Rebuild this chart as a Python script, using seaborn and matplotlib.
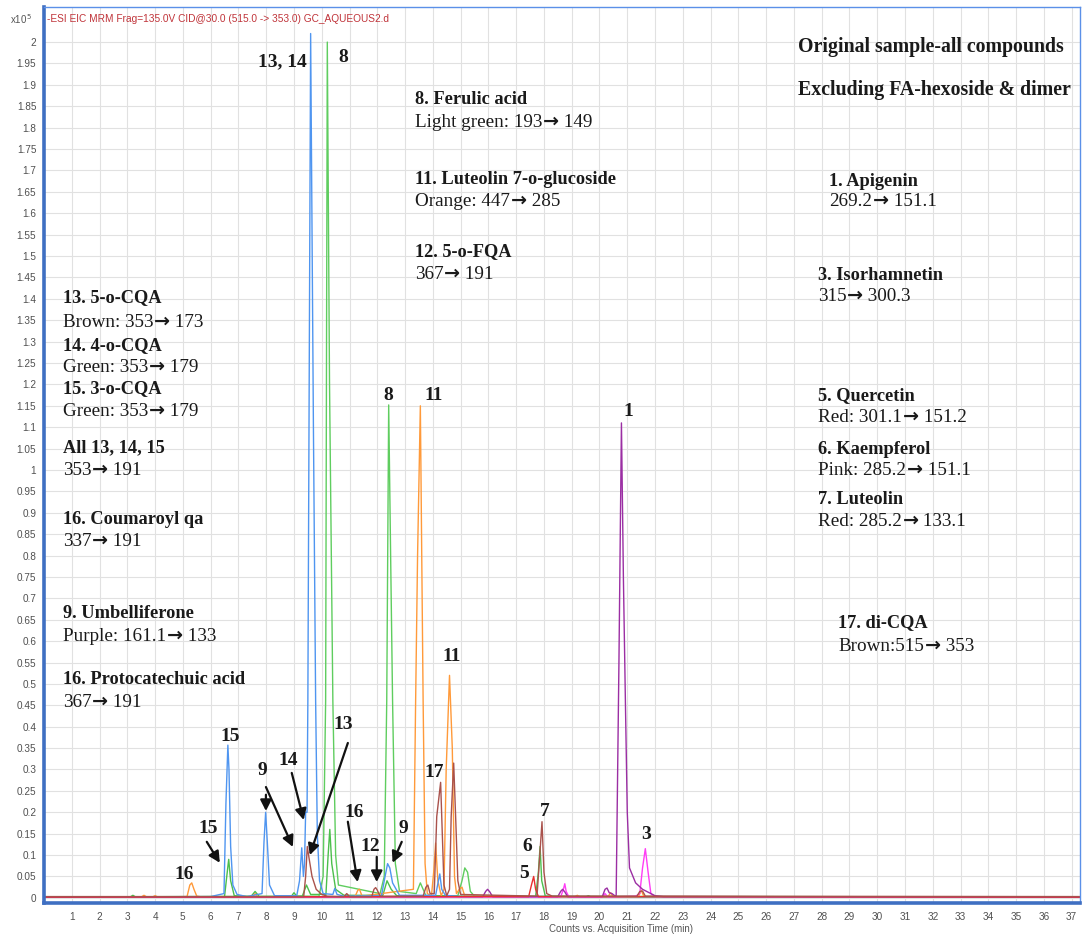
import numpy as np
import pandas as pd
import matplotlib
matplotlib.use("Agg")
import matplotlib.pyplot as plt
from matplotlib.text import Annotation
import seaborn as sns

# ---------------------------------------------------------------
# Chromatogram traces (retention time in min, counts x 10^5)
# ---------------------------------------------------------------
blue_t = [0, 6.0, 6.48, 6.55, 6.62, 6.66, 6.72, 6.8, 6.95, 7.3, 7.85, 7.92, 7.98, 8.04,
          8.12, 8.3, 9.1, 9.2, 9.28, 9.34, 9.38, 9.42, 9.47, 9.5, 9.6, 9.7, 9.78, 9.84,
          9.92, 10.05, 10.4, 10.47, 10.55, 10.8, 12.15, 12.28, 12.37, 12.45, 12.55, 12.8,
          14.1, 14.2, 14.25, 14.32, 14.45, 15.0, 37.3]
blue_y = [0.002, 0.003, 0.01, 0.22, 0.357, 0.3, 0.12, 0.03, 0.008, 0.003, 0.01, 0.13, 0.2,
          0.13, 0.03, 0.005, 0.005, 0.04, 0.117, 0.05, 0.08, 0.2, 0.2, 0.46, 2.02, 1.1,
          0.46, 0.15, 0.04, 0.01, 0.008, 0.022, 0.008, 0.004, 0.005, 0.05, 0.08, 0.07,
          0.035, 0.006, 0.006, 0.04, 0.056, 0.02, 0.006, 0.003, 0.002]

lgreen_t = [0, 9.9, 10.05, 10.14, 10.2, 10.28, 10.4, 10.5, 10.6, 12.1, 12.25, 12.34,
            12.41, 12.48, 12.55, 12.65, 12.8, 13.4, 13.55, 13.65, 13.75, 14.9, 15.05,
            15.15, 15.25, 15.35, 15.5, 37.3]
lgreen_y = [0.002, 0.004, 0.05, 0.46, 2.0, 1.2, 0.46, 0.1, 0.03, 0.01, 0.05, 0.46, 1.152,
            0.8, 0.46, 0.08, 0.015, 0.01, 0.035, 0.02, 0.005, 0.005, 0.04, 0.07, 0.06,
            0.015, 0.004, 0.002]

green_t = [0, 3.1, 3.2, 3.3, 6.5, 6.58, 6.65, 6.72, 6.85, 7.45, 7.6, 7.75, 8.9, 9.0, 9.1,
           9.3, 9.45, 9.6, 10.15, 10.23, 10.29, 10.36, 10.5, 10.8, 12.2, 12.35, 12.5,
           12.7, 17.7, 17.8, 17.86, 17.92, 18.05, 19.5, 19.6, 19.7, 37.3]
green_y = [0.002, 0.002, 0.006, 0.002, 0.003, 0.05, 0.09, 0.04, 0.005, 0.003, 0.015,
           0.003, 0.003, 0.012, 0.004, 0.004, 0.03, 0.008, 0.008, 0.1, 0.16, 0.08, 0.02,
           0.006, 0.006, 0.04, 0.02, 0.005, 0.003, 0.06, 0.12, 0.04, 0.004, 0.002, 0.005,
           0.002, 0.002]

orange_t = [0, 3.5, 3.6, 3.7, 3.9, 4.0, 4.1, 5.15, 5.25, 5.32, 5.4, 5.5, 5.7, 7.5, 7.6,
            7.7, 11.2, 11.3, 11.36, 11.45, 13.3, 13.38, 13.45, 13.55, 13.6, 13.65, 13.72,
            13.8, 13.95, 14.03, 14.1, 14.18, 14.3, 14.4, 14.48, 14.6, 14.7, 14.78, 14.85,
            14.95, 15.05, 15.15, 19.1, 19.2, 19.3, 20.3, 20.4, 20.5, 21.4, 21.5, 21.6, 37.3]
orange_y = [0.002, 0.002, 0.006, 0.002, 0.002, 0.005, 0.002, 0.003, 0.03, 0.035, 0.02,
            0.004, 0.002, 0.002, 0.01, 0.002, 0.003, 0.018, 0.02, 0.004, 0.02, 0.46, 0.8,
            1.15, 0.8, 0.46, 0.08, 0.01, 0.005, 0.06, 0.128, 0.04, 0.005, 0.02, 0.3, 0.52,
            0.35, 0.05, 0.01, 0.02, 0.025, 0.004, 0.002, 0.006, 0.002, 0.002, 0.012, 0.002,
            0.002, 0.018, 0.003, 0.002]

brown_t = [0, 9.35, 9.42, 9.48, 9.55, 9.65, 9.8, 10.0, 10.2, 10.8, 10.9, 11.0, 11.8,
           11.88, 11.94, 12.0, 12.1, 13.65, 13.75, 13.82, 13.9, 14.05, 14.14, 14.28, 14.32,
           14.4, 14.5, 14.6, 14.66, 14.75, 14.82, 14.9, 15.0, 17.75, 17.85, 17.93, 18.0,
           18.1, 18.3, 21.35, 21.45, 21.55, 21.65, 37.3]
brown_y = [0.003, 0.003, 0.05, 0.12, 0.09, 0.05, 0.02, 0.008, 0.004, 0.003, 0.01, 0.003,
           0.003, 0.02, 0.024, 0.018, 0.004, 0.004, 0.025, 0.03, 0.01, 0.01, 0.19, 0.27,
           0.19, 0.03, 0.005, 0.02, 0.19, 0.315, 0.19, 0.04, 0.008, 0.004, 0.1, 0.178,
           0.06, 0.01, 0.004, 0.004, 0.015, 0.016, 0.004, 0.003]

purple_t = [0, 15.8, 15.9, 15.97, 16.05, 16.15, 18.5, 18.6, 18.67, 18.75, 18.85, 20.1,
            20.2, 20.27, 20.35, 20.45, 20.55, 20.6, 20.7, 20.79, 20.86, 20.94, 21.0, 21.08,
            21.3, 21.55, 22.0, 22.3, 37.3]
purple_y = [0.002, 0.003, 0.015, 0.02, 0.014, 0.003, 0.003, 0.015, 0.02, 0.014, 0.003,
            0.003, 0.02, 0.023, 0.012, 0.01, 0.005, 0.005, 0.55, 1.11, 0.75, 0.43, 0.2,
            0.07, 0.035, 0.02, 0.005, 0.003, 0.002]

magenta_t = [0, 18.6, 18.7, 18.75, 18.8, 18.9, 20.1, 20.2, 20.3, 21.3, 21.45, 21.55,
             21.65, 21.75, 21.85, 22.0, 37.3]
magenta_y = [0.002, 0.002, 0.02, 0.033, 0.015, 0.002, 0.002, 0.01, 0.002, 0.004, 0.01,
             0.07, 0.115, 0.06, 0.01, 0.003, 0.002]

red_t = [0, 17.45, 17.55, 17.63, 17.7, 17.8, 37.3]
red_y = [0.002, 0.003, 0.03, 0.05, 0.02, 0.003, 0.002]

# drawing order: later traces sit on top of the shared baseline
trace_names = ["lgreen", "green", "orange", "blue", "magenta", "purple", "red", "brown"]
trace_colors = {"blue": "#4f95f0", "lgreen": "#5fcd5f", "green": "#4cbf4c",
                "orange": "#ff9a3a", "brown": "#a9524c", "purple": "#9b2ea3",
                "magenta": "#ff3df5", "red": "#e8302e"}

series = {"blue": (blue_t, blue_y), "lgreen": (lgreen_t, lgreen_y),
          "green": (green_t, green_y), "orange": (orange_t, orange_y),
          "brown": (brown_t, brown_y), "purple": (purple_t, purple_y),
          "magenta": (magenta_t, magenta_y), "red": (red_t, red_y)}

frames = []
for name in trace_names:
    t, y = series[name]
    frames.append(pd.DataFrame({"time": t, "counts": y, "trace": name}))
df = pd.concat(frames, ignore_index=True)

# ---------------------------------------------------------------
# Figure
# ---------------------------------------------------------------
sns.set_theme(style="white")
plt.rcParams["font.family"] = ["Liberation Sans", "DejaVu Sans"]

W, H = 1088, 936
fig = plt.figure(figsize=(W / 100, H / 100), dpi=100)
ax = fig.add_axes([44 / W, 1 - 903 / H, (1080 - 44) / W, (903 - 7) / H])

ax.set_xlim(0, 37.3)
ax.set_ylim(-0.012, 2.082)

ax.set_xticks(np.arange(1, 38, 1))
ax.set_xticklabels([str(i) for i in range(1, 38)])
yt = np.round(np.arange(0, 2.0001, 0.05), 2)
ax.set_yticks(yt)
ax.set_yticklabels([f"{v:g}" for v in yt])
ax.grid(True, color="#e1e1e1", linewidth=0.8)
ax.set_axisbelow(True)

for name in trace_names:
    sub = df[df["trace"] == name]
    sns.lineplot(data=sub, x="time", y="counts", ax=ax, color=trace_colors[name],
                 linewidth=1.0, estimator=None, sort=False, legend=False)

ax.set_xlabel("")
ax.set_ylabel("")
ax.tick_params(axis="both", labelsize=7.2, colors="#4a4a4a", length=4, width=0.8,
               direction="out", pad=1.5)
ax.tick_params(axis="x", pad=2.5)
for lab in ax.get_xticklabels() + ax.get_yticklabels():
    lab.set_color("#505050")

for side in ["left", "bottom"]:
    ax.spines[side].set_color("#3f6fc2")
    ax.spines[side].set_linewidth(2.6)
for side in ["top", "right"]:
    ax.spines[side].set_color("#5b90e8")
    ax.spines[side].set_linewidth(1.0)


def px(x, y):
    return x / W, 1 - y / H


fig.text(*px(10, 19), "x10$^{\\,5}$", fontsize=7, color="#555555", va="center",
         ha="left")
fig.text(*px(47, 19), "-ESI EIC MRM Frag=135.0V CID@30.0 (515.0 -> 353.0) GC_AQUEOUS2.d",
         fontsize=7.3, color="#c0343a", va="center", ha="left")
fig.text(*px(621, 929), "Counts vs. Acquisition Time (min)", fontsize=7,
         color="#555555", va="center", ha="center")

serif = ["Liberation Serif", "DejaVu Serif"]
FS = 13.2
FS_DETAIL = 13.8
FS_HEAD = 14.3
INK = "#1a1a1a"


def detail_line(x, y, text):
    """Transition line such as 'Brown: 353 -> 173' with a heavy arrow glyph."""
    left, right = text.split("\u2192")
    t0 = fig.text(*px(x, y), left, fontsize=FS_DETAIL, family=serif, color=INK,
                  va="baseline", ha="left")
    arr = fig.add_artist(Annotation(
        "\u2192", xy=(1, 0), xycoords=t0, xytext=(0.5, 0.5), textcoords="offset points",
        fontsize=FS_DETAIL * 1.0, family=["DejaVu Sans"], fontweight="bold", color=INK,
        va="bottom", ha="left"))
    fig.add_artist(Annotation(
        right, xy=(1, 0), xycoords=arr, xytext=(0, -0.5), textcoords="offset points",
        fontsize=FS_DETAIL, family=serif, color=INK, va="bottom", ha="left"))


def block(x, y, title, detail=None, dy=22, size=FS):
    fig.text(*px(x, y), title, fontsize=size, family=serif, fontweight="bold",
             color=INK, va="center", ha="left")
    if detail:
        detail_line(x, y + dy + 5, detail)


# compound key, left column
block(63, 298, "13. 5-o-CQA", "Brown: 353\u2192 173", 24)
block(63, 346, "14. 4-o-CQA", "Green: 353\u2192 179", 21)
block(63, 389, "15. 3-o-CQA", "Green: 353\u2192 179", 22)
block(63, 448, "All 13, 14, 15", "353\u2192 191")
block(63, 519, "16. Coumaroyl qa", "337\u2192 191")
block(63, 614, "9. Umbelliferone", "Purple: 161.1\u2192 133")
block(63, 680, "16. Protocatechuic acid", "367\u2192 191")

# compound key, middle column
block(415, 100, "8. Ferulic acid", "Light green: 193\u2192 149")
block(415, 180, "11. Luteolin 7-o-glucoside", "Orange: 447\u2192 285", 21)
block(415, 252, "12. 5-o-FQA", "367\u2192 191")

# compound key, right column
block(798, 47, "Original sample-all compounds", size=FS_HEAD)
block(798, 90, "Excluding FA-hexoside & dimer", size=FS_HEAD)
block(829, 181, "1. Apigenin", "269.2\u2192 151.1", 20)
block(818, 275, "3. Isorhamnetin", "315\u2192 300.3", 21)
block(818, 396, "5. Quercetin", "Red: 301.1\u2192 151.2", 21)
block(818, 449, "6. Kaempferol", "Pink: 285.2\u2192 151.1", 21)
block(818, 500, "7. Luteolin", "Red: 285.2\u2192 133.1", 21)
block(838, 623, "17. di-CQA", "Brown:515\u2192 353", 23)

# peak numbers
peak_labels = [("13, 14", 8.6, 1.953), ("8", 10.76, 1.963), ("8", 12.41, 1.173),
               ("11", 14.03, 1.173), ("1", 21.04, 1.136), ("11", 14.68, 0.565),
               ("15", 6.69, 0.378), ("14", 8.78, 0.32), ("13", 10.76, 0.404),
               ("9", 7.88, 0.297), ("15", 5.9, 0.161), ("16", 5.04, 0.054),
               ("16", 11.15, 0.2), ("12", 11.73, 0.119), ("9", 12.95, 0.161),
               ("17", 14.06, 0.294), ("7", 18.02, 0.203), ("6", 17.41, 0.119),
               ("5", 17.3, 0.056), ("3", 21.69, 0.147)]
for txt, tx, ty in peak_labels:
    ax.text(tx, ty, txt, fontsize=14, family=serif, fontweight="bold", color=INK,
            ha="center", va="center")

# arrows pointing at minor peaks
arrows = [((5.86, 0.131), (6.33, 0.082)), ((7.99, 0.241), (7.99, 0.203)),
          ((7.99, 0.259), (8.96, 0.119)), ((8.92, 0.292), (9.35, 0.182)),
          ((10.94, 0.362), (9.57, 0.10)), ((10.94, 0.178), (11.29, 0.037)),
          ((11.98, 0.096), (11.98, 0.037)), ((12.88, 0.131), (12.55, 0.082))]
for (x0, y0), (x1, y1) in arrows:
    ax.annotate("", xy=(x1, y1), xytext=(x0, y0),
                arrowprops=dict(arrowstyle="-|>,head_length=0.55,head_width=0.28",
                                color="#111111", lw=1.6, shrinkA=0, shrinkB=0))

fig.savefig("out.png", dpi=100)
